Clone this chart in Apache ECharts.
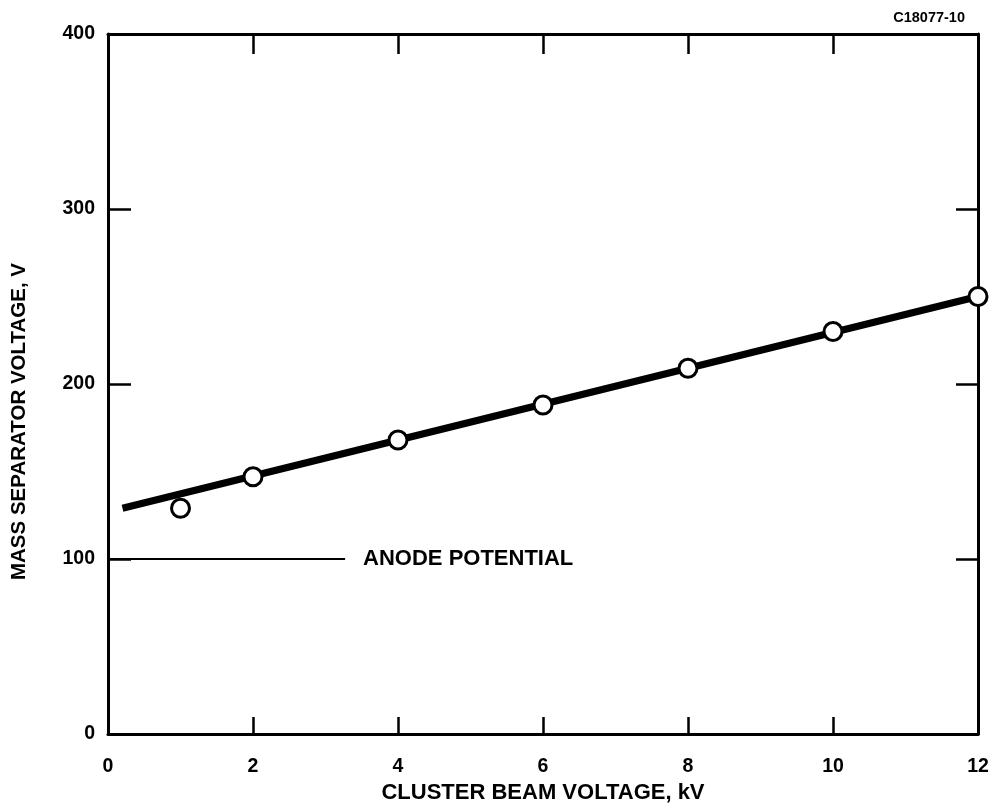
<!DOCTYPE html>
<html>
<head>
<meta charset="utf-8">
<script src="https://cdn.jsdelivr.net/npm/echarts@6/dist/echarts.min.js"></script>
<style>html,body{margin:0;padding:0;background:#fff}#c{width:995px;height:812px}</style>
</head>
<body>
<div id="c"></div>
<script>
const xTicks = [0, 2, 4, 6, 8, 10, 12];
const yTicks = [0, 100, 200, 300, 400];
const measuredX = [1, 2, 4, 6, 8, 10, 12];
const measuredY = [129, 147, 168, 188, 209, 230, 250];
const fitX = [0.2, 12];
const fitY = [129, 250];
const anodeX = [0, 3.27];
const anodeY = [100, 100];
const anodeLabel = 'ANODE POTENTIAL';
const figureId = 'C18077-10';
const xTitle = 'CLUSTER BEAM VOLTAGE, kV';
const yTitle = 'MASS SEPARATOR VOLTAGE, V';

const font = 'Liberation Sans, Arial, sans-serif';
const chart = echarts.init(document.getElementById('c'), null, {renderer: 'canvas'});
const zip = (a, b) => a.map((v, i) => [v, b[i]]);

function axisBase(extra) {
  return Object.assign({
    type: 'value',
    splitLine: {show: false},
    axisLine: {show: true, onZero: false, lineStyle: {color: '#000', width: 3}},
    axisTick: {show: true, inside: true, length: 20, lineStyle: {color: '#000', width: 2.5}},
  }, extra);
}

chart.setOption({
  animation: false,
  backgroundColor: '#fff',
  title: {
    text: figureId, right: 25, top: 5,
    textStyle: {fontFamily: font, fontSize: 14.5, fontWeight: 'bold', color: '#000'}
  },
  graphic: [{
    type: 'text', left: 9, top: 263, rotation: Math.PI / 2,
    style: {text: yTitle, fontFamily: font, fontSize: 20.5, fontWeight: 'bold', fill: '#000'}
  }],
  grid: {left: 108, top: 34, right: 17, bottom: 78, containLabel: false},
  xAxis: [
    axisBase({
      position: 'bottom', min: 0, max: 12, interval: 2,
      name: xTitle, nameLocation: 'middle', nameGap: 48,
      nameTextStyle: {fontFamily: font, fontSize: 22, fontWeight: 'bold', color: '#000'},
      axisLabel: {fontFamily: font, fontSize: 19.5, fontWeight: 'bold', color: '#000', margin: 23,
        customValues: xTicks},
      axisTick: {show: true, inside: true, length: 17, lineStyle: {color: '#000', width: 2.5}}
    }),
    axisBase({
      position: 'top', min: 0, max: 12, interval: 2,
      axisLabel: {show: false}
    })
  ],
  yAxis: [
    axisBase({
      position: 'left', min: 0, max: 400, interval: 100,
      axisLabel: {fontFamily: font, fontSize: 19.5, fontWeight: 'bold', color: '#000', margin: 13,
        customValues: yTicks},
      axisTick: {show: true, inside: true, length: 23, lineStyle: {color: '#000', width: 2.5}}
    }),
    axisBase({
      position: 'right', min: 0, max: 400, interval: 100,
      axisLabel: {show: false},
      axisTick: {show: true, inside: true, length: 22, lineStyle: {color: '#000', width: 2.5}}
    })
  ],
  series: [
    {
      type: 'line', data: zip(fitX, fitY), showSymbol: false, symbol: 'none',
      lineStyle: {color: '#000', width: 7}, z: 2, silent: true
    },
    {
      type: 'line', data: zip(anodeX, anodeY), symbol: 'none', showSymbol: false,
      lineStyle: {color: '#000', width: 2}, z: 2, silent: true,
      endLabel: {show: true, formatter: anodeLabel, distance: 18,
        fontFamily: font, fontSize: 22, fontWeight: 'bold', color: '#000'}
    },
    {
      type: 'scatter', data: zip(measuredX, measuredY), symbol: 'circle', symbolSize: 18,
      itemStyle: {color: '#fff', borderColor: '#000', borderWidth: 3, opacity: 1}, z: 5
    }
  ]
});
</script>
</body>
</html>
